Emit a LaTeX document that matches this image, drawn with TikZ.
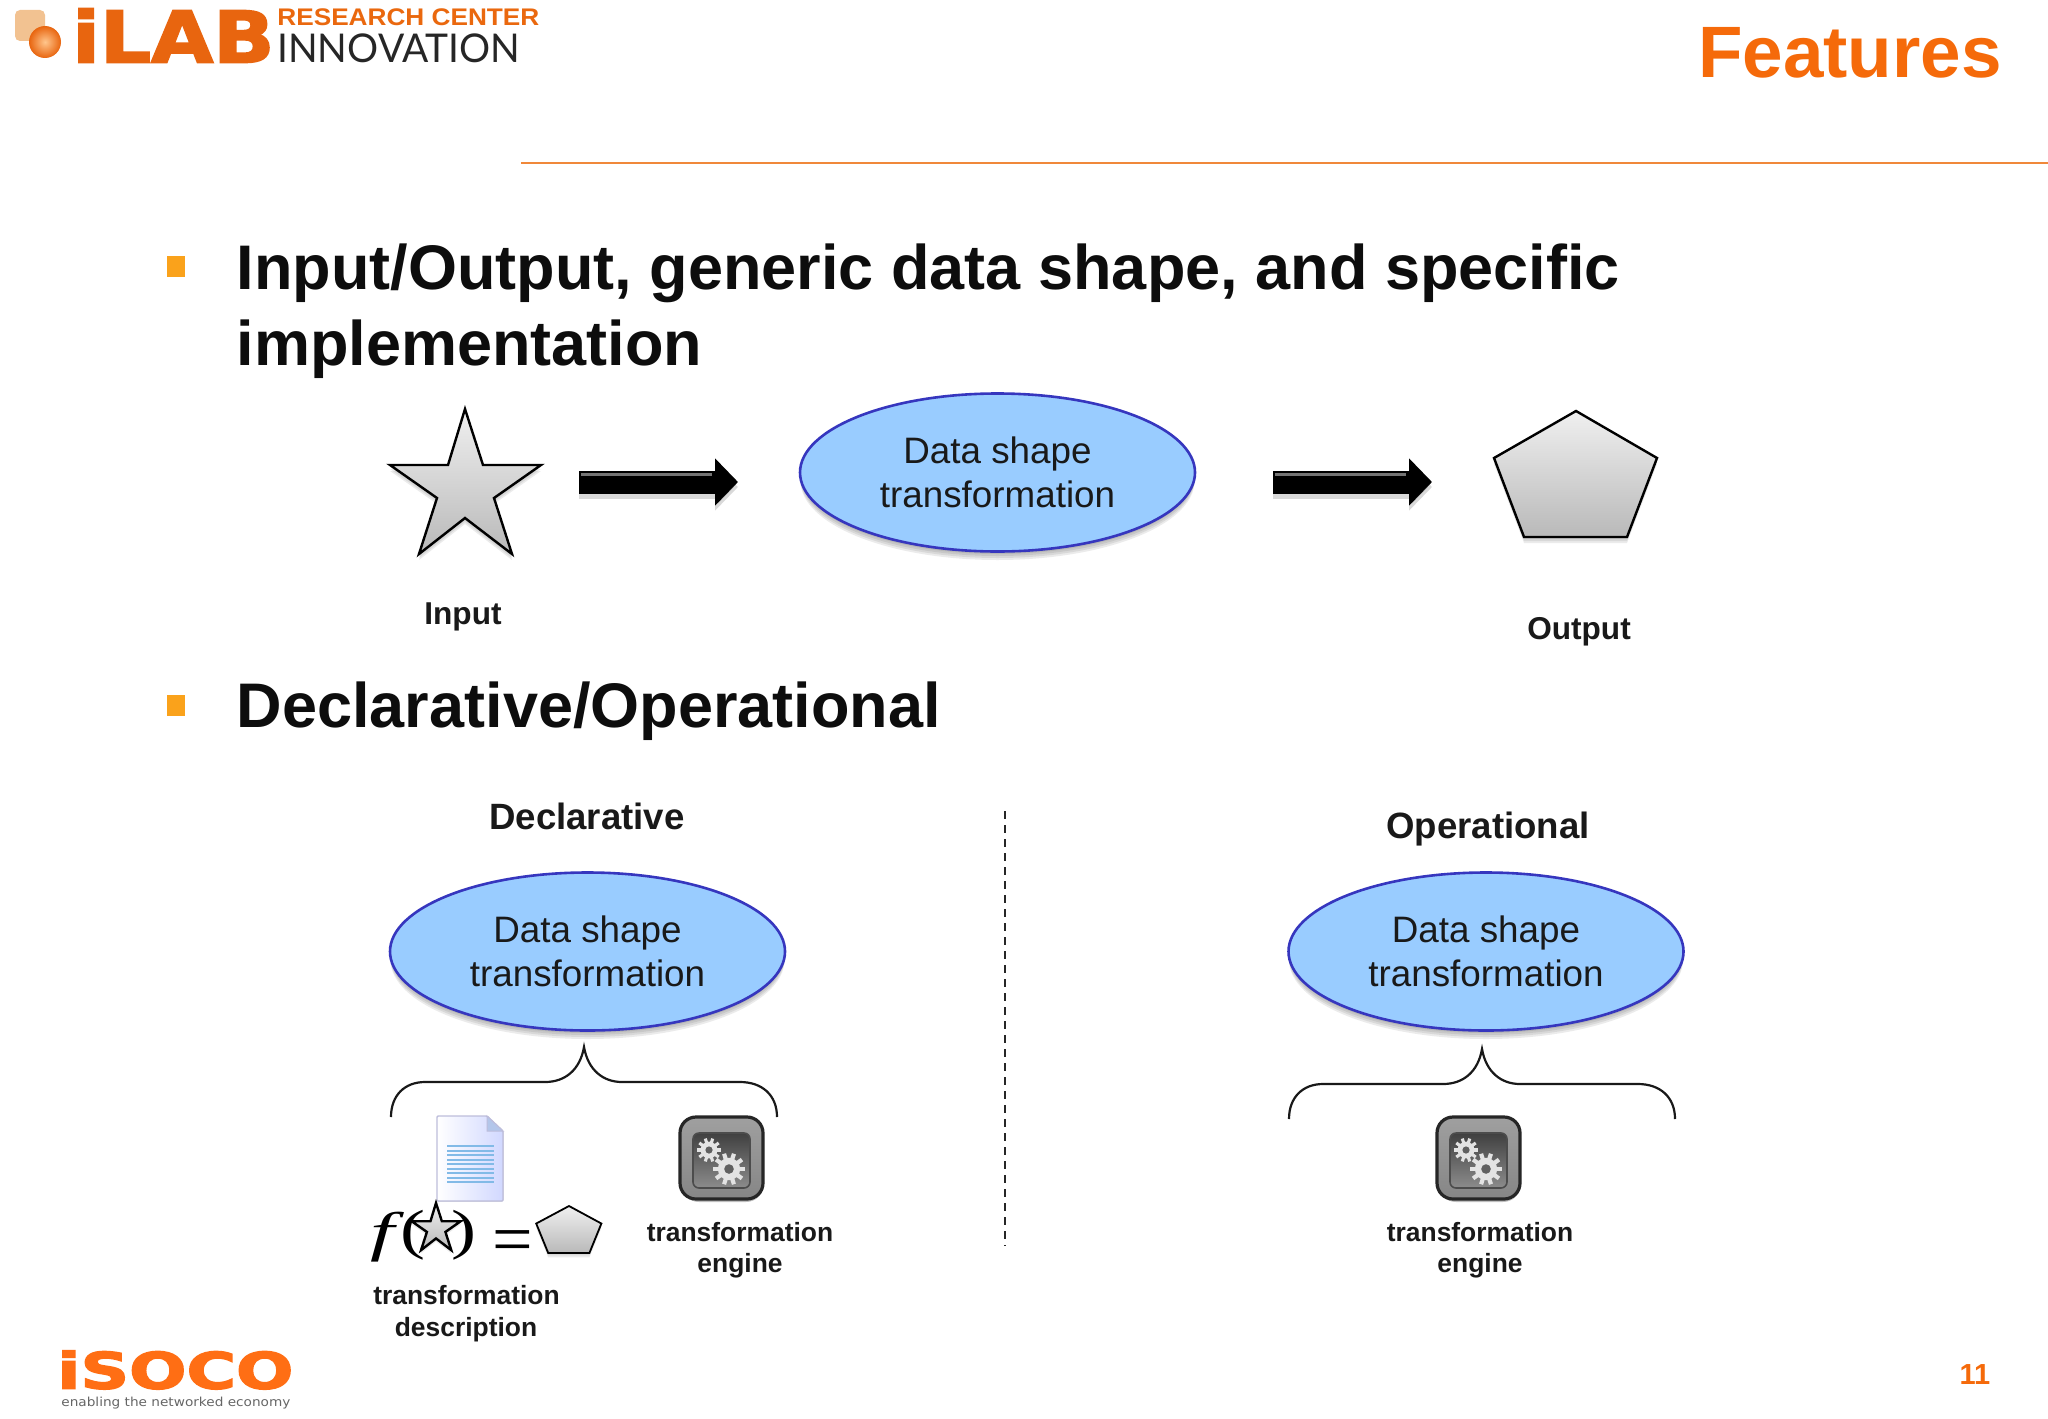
\documentclass[tikz,border=0pt]{standalone}
\usepackage{fontspec}
\usetikzlibrary{shapes.geometric,arrows.meta}
\setmainfont{Liberation Sans}
\newfontfamily\logoheavy[BoldFeatures={FakeBold=2.5}]{DejaVu Sans}
\newfontfamily\logolight{Lato}
\newfontfamily\mathserif{Liberation Serif}
\definecolor{ilaborange}{HTML}{E8650F}
\definecolor{rulecol}{HTML}{F0883A}
\definecolor{titlecol}{HTML}{F56A0A}
\definecolor{bulletcol}{HTML}{FAA21B}
\definecolor{ellfill}{HTML}{99CCFF}
\definecolor{elledge}{HTML}{3636BE}
\definecolor{isoco}{HTML}{FF6E14}
\newcommand{\fsz}[1]{\fontsize{#1}{#1}\selectfont}
% exact-fit text: name, left, top, width, total height (px), colour, text
\newcommand{\fitlabel}[7]{\node[anchor=north west,inner sep=0pt,text=#6] (#1) at (#2,#3) {\resizebox*{\dimexpr #4pt/2\relax}{\dimexpr #5pt/2\relax}{#7}};}
\newcommand{\starpath}{(465,409) -- (483,465) -- (541,465) -- (494,498) -- (512,554) -- (465,518) -- (419,554) -- (437,498) -- (390,465) -- (448,465) -- cycle}
\newcommand{\pentapath}{(1576,411) -- (1657,458) -- (1627,537) -- (1524,537) -- (1494,458) -- cycle}
\tikzset{
  softshadow/.style={fill=black,fill opacity=0.08,draw=none},
  silver/.style={top color=gray!12,bottom color=gray!55,draw=black},
  dse/.style={ellipse,inner sep=0pt,minimum width=197.5pt,minimum height=79pt,fill=ellfill,draw=elledge,line width=1.3pt,align=center,font=\fontsize{18.4}{22.2}\selectfont,text=black!90},
  lab/.style={font=\bfseries\fsz{13.2},align=center,text=black!90,inner sep=0pt},
  head/.style={font=\bfseries\fsz{31.5},anchor=base west,inner sep=0pt,text=black!95},
  collab/.style={font=\bfseries\fsz{18.3},anchor=base,inner sep=0pt,text=black!90},
  bigarrow/.style={line width=11.5pt,draw=black,-{Triangle[length=11.5pt,width=23pt]},shorten >=0pt},
  bul/.style={fill=bulletcol,draw=none},
  bracestyle/.style={draw=black!90,line width=1.1pt,fill=none},
}
\newcommand{\ellshadow}[2]{\foreach \d in {2,4,6,8}{\fill[softshadow] (#1,#2+\d) ellipse (197 and 79);}}
\newcommand{\gear}[3]{\begin{scope}[shift={(#1,#2)}]
  \fill[gray!22] (0,0) circle ({#3*0.7});
  \foreach \a in {0,36,...,324}{\fill[gray!22,rotate=\a] ({#3*0.6},{-#3*0.13}) rectangle ({#3},{#3*0.13});}
  \fill[gray!75!black] (0,0) circle ({#3*0.3});
\end{scope}}
\newcommand{\engine}[1]{\begin{scope}[shift={(#1,0)}]
  \fill[black,opacity=.25,rounded corners=9pt] (681,1120) rectangle (764,1202);
  \fill[rounded corners=8pt,draw=black!85,line width=1.6pt,top color=gray!75,bottom color=gray!95] (680,1117) rectangle (763,1199);
  \fill[rounded corners=3pt,top color=black!75,bottom color=black!45,draw=black!70,line width=.8pt] (693,1133) rectangle (750,1188);
  \gear{709}{1150}{12}
  \gear{729}{1169}{16}
\end{scope}}
\newcommand{\curlybrace}[1]{\draw[bracestyle,shift={#1}] (391,1117) .. controls (391,1095) and (405,1082) .. (425,1082) -- (545,1082) .. controls (565,1082) and (580,1070) .. (584,1047) .. controls (588,1070) and (603,1082) .. (622,1082) -- (740,1082) .. controls (762,1082) and (777,1095) .. (777,1117);}
\begin{document}
\begin{tikzpicture}[x=0.5pt,y=-0.5pt]
\path[use as bounding box,fill=white] (0,0) rectangle (2048,1418);

% header logo
\fill[fill=orange!40!white!95!black,rounded corners=2.5pt] (15,10) rectangle (45,41);
\shade[inner color=orange!45,outer color=ilaborange] (45,42) circle (16);
\fitlabel{ilab}{72}{8}{202}{54}{ilaborange}{\logoheavy\bfseries iLAB}
\fitlabel{rc}{277}{8}{262}{17}{ilaborange!90!orange}{\bfseries RESEARCH CENTER}
\fitlabel{inno}{277}{33}{243}{29}{black!85}{\logolight INNOVATION}
\node[anchor=base east,inner sep=0pt,text=titlecol,font=\bfseries\fsz{36.4}] (title) at (2002,78) {Features};
\draw[rulecol,line width=1pt] (521,163) -- (2048,163);

% headings
\fill[bul] (167,256) rectangle (185,277);
\node[head] (h1) at (236.5,289) {Input/Output, generic data shape, and specific};
\node[head] (h2) at (236.5,365) {implementation};
\fill[bul] (167,695) rectangle (185,716);
\node[head] (h3) at (236.5,727.5) {Declarative/Operational};

% input star
\foreach \d in {2,4,6}{\fill[softshadow,shift={(0,\d)}] \starpath;}
\filldraw[silver,line width=1.2pt,line join=miter] \starpath;
\node[lab,font=\bfseries\fsz{15.8},anchor=base] (input) at (463,624) {Input};

% arrows
\coordinate (a1s) at (579,482);
\coordinate (a1e) at (738,482);
\coordinate (a2s) at (1273,482);
\coordinate (a2e) at (1432,482);
\draw[bigarrow,draw=black,opacity=.15] ([yshift=-2.5pt]a1s) -- ([yshift=-2.5pt]a1e);
\draw[bigarrow,draw=black,opacity=.15] ([yshift=-2.5pt]a2s) -- ([yshift=-2.5pt]a2e);
\draw[bigarrow] (a1s) -- (a1e);
\draw[bigarrow] (a2s) -- (a2e);
\fill[gray!70,opacity=.7] (581,473) rectangle (712,476);
\fill[gray!70,opacity=.7] (1275,473) rectangle (1406,476);

% top ellipse
\ellshadow{997.5}{473}
\node[dse] (top) at (997.5,472.5) {Data shape\\transformation};

% output pentagon
\foreach \d in {2,4,6}{\fill[softshadow,shift={(0,\d)}] \pentapath;}
\filldraw[silver,line width=1.2pt] \pentapath;
\node[lab,font=\bfseries\fsz{15.8},anchor=base] (output) at (1579,639) {Output};

% column titles and divider
\node[collab] (decl) at (587,829) {Declarative};
\node[collab] (oper) at (1488,838) {Operational};
\coordinate (dv1) at (1005,811);
\coordinate (dv2) at (1005,1246);
\draw[black!85,line width=1pt,dash pattern=on 4pt off 3pt] (dv1) -- (dv2);

% lower ellipses
\ellshadow{587.5}{952}
\node[dse] (left) at (587.5,951.5) {Data shape\\transformation};
\ellshadow{1486}{952}
\node[dse] (right) at (1486,951.5) {Data shape\\transformation};

% braces
\curlybrace{(0,0)}
\curlybrace{(898,2)}

% document icon
\filldraw[draw=blue!30!gray!40,line width=.7pt,left color=white,right color=cyan!15!blue!18,rounded corners=.5pt] (437,1116) -- (487,1116) -- (503,1131) -- (503,1201) -- (437,1201) -- cycle;
\filldraw[fill=cyan!50!blue!30,draw=blue!30!gray!40,line width=.5pt] (487,1116) -- (503,1131) -- (487,1131) -- cycle;
\foreach \y in {1146,1150.5,...,1183}{\draw[cyan!70!blue!50,line width=1pt] (447,\y) -- (494,\y);}

% engines
\engine{0}
\engine{757}

% formula
\fitlabel{ff}{370}{1212}{24}{50}{black}{\mathserif\itshape f}
\fitlabel{lp}{400}{1210}{25}{50}{black}{\mathserif (}
\fitlabel{rp}{451}{1210}{25}{50}{black}{\mathserif )}
\begin{scope}[shift={(436,1203)},scale=0.325,shift={(-465,-409)}]
  \foreach \d in {5,10}{\fill[softshadow,shift={(0,\d)}] \starpath;}
  \filldraw[silver,line width=1.2pt] \starpath;
\end{scope}
\node[inner sep=0pt,font=\mathserif\fsz{36}] (eq) at (513,1247) {=};
\begin{scope}[shift={(569,1206)},xscale=0.40,yscale=0.373,shift={(-1576,-411)}]
  \foreach \d in {6,12}{\fill[softshadow,shift={(0,\d)}] \pentapath;}
  \filldraw[silver,line width=.9pt] \pentapath;
\end{scope}

% bottom labels
\node[lab,anchor=base] (td1) at (466.5,1304) {transformation};
\node[lab,anchor=base] (td2) at (466,1336) {description};
\node[lab,anchor=base] (te1) at (740,1241) {transformation};
\node[lab,anchor=base] (te2) at (740,1272) {engine};
\node[lab,anchor=base] (te3) at (1480,1241) {transformation};
\node[lab,anchor=base] (te4) at (1480,1272) {engine};

% footer
\fitlabel{iso}{57}{1350}{236}{39}{isoco}{\logoheavy\bfseries iSOCO}
\fitlabel{tag}{61}{1397}{229}{12}{black!60}{\logoheavy enabling the networked economy}
\node[anchor=base,inner sep=0pt,text=titlecol,font=\bfseries\fsz{14.5}] (page) at (1975,1384) {11};
\end{tikzpicture}
\end{document}
